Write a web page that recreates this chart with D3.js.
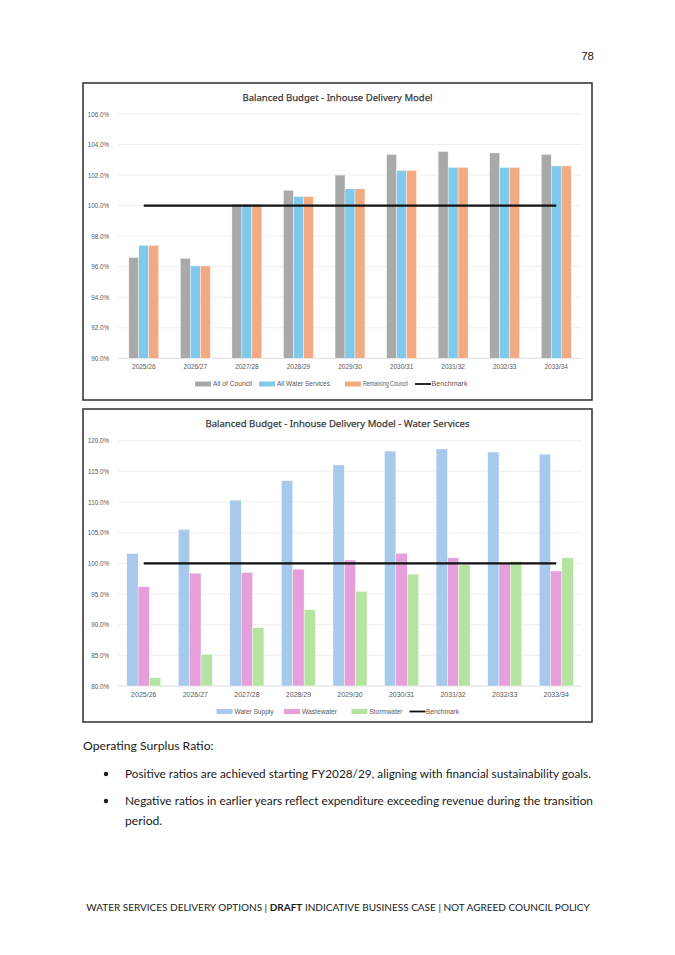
<!DOCTYPE html>
<html lang="en">
  <head>
    <meta charset="utf-8" />
    <title>Balanced Budget - Inhouse Delivery Model</title>
    <script src="https://d3js.org/d3.v7.min.js"></script>
    <style>
      html, body { margin: 0; padding: 0; background: #fff; }
      svg { display: block; }
    </style>
  </head>
  <body>
    <svg id="page" width="675" height="955"></svg>

    <script>
      // ---- data ----
      const years = ["2025/26", "2026/27", "2027/28", "2028/29", "2029/30", "2030/31", "2031/32", "2032/33", "2033/34"];

      const allOfCouncil      = [96.6, 96.55, 100.1, 101.0, 102.0, 103.35, 103.55, 103.45, 103.35];
      const allWaterServices  = [97.4, 96.05, 100.1, 100.6, 101.1, 102.3, 102.5, 102.5, 102.6];
      const remainingCouncil  = [97.4, 96.05, 100.1, 100.6, 101.1, 102.3, 102.5, 102.5, 102.6];

      const waterSupply = [101.6, 105.55, 110.3, 113.5, 116.05, 118.3, 118.65, 118.15, 117.8];
      const wastewater  = [96.2, 98.4, 98.5, 99.05, 100.55, 101.65, 100.9, 100.0, 98.75];
      const stormwater  = [81.35, 85.15, 89.5, 92.45, 95.45, 98.25, 99.75, 100.35, 100.9];

      const benchmark = 100;

      const topTicks = [90, 92, 94, 96, 98, 100, 102, 104, 106];
      const bottomTicks = [80, 85, 90, 95, 100, 105, 110, 115, 120];

      const svg = d3.select("#page");
      const chartFont = "'Liberation Sans', Arial, sans-serif";
      const docFont = "Lato, 'Noto Sans', sans-serif";

      function drawChart(opt) {
        const g = svg.append("g");

        // frame
        g.append("rect")
          .attr("x", opt.box[0]).attr("y", opt.box[1])
          .attr("width", opt.box[2] - opt.box[0]).attr("height", opt.box[3] - opt.box[1])
          .attr("fill", "#fff")
          .attr("stroke", "#3a3a3a")
          .attr("stroke-width", 1.6);

        g.append("text")
          .attr("x", (opt.box[0] + opt.box[2]) / 2)
          .attr("y", opt.box[1] + 18)
          .attr("text-anchor", "middle")
          .attr("font-family", "'Noto Sans', sans-serif")
          .attr("font-size", 9.8)
          .attr("fill", "#3a3a3a")
          .attr("stroke", "#3a3a3a")
          .attr("stroke-width", 0.25)
          .attr("textLength", opt.titleW)
          .attr("lengthAdjust", "spacingAndGlyphs")
          .text(opt.title);

        const x = d3.scaleBand()
          .domain(years)
          .range([118, 582])
          .paddingInner(opt.pad)
          .paddingOuter(opt.pad / 2);

        const xs = d3.scaleBand()
          .domain(opt.series.map(s => s.name))
          .range([0, x.bandwidth()]);

        const y = d3.scaleLinear()
          .domain(opt.domain)
          .range(opt.yRange);

        // gridlines
        g.append("g")
          .selectAll("line")
          .data(opt.ticks)
          .join("line")
          .attr("x1", 118).attr("x2", 582)
          .attr("y1", d => y(d)).attr("y2", d => y(d))
          .attr("stroke", d => d === opt.domain[0] ? "#d9d9d9" : "#ececec")
          .attr("stroke-width", 0.9);

        // y axis labels
        const yAxis = g.append("g")
          .attr("transform", "translate(112,0)")
          .call(d3.axisLeft(y).tickValues(opt.ticks).tickSize(0).tickFormat(d => d.toFixed(1) + "%"));
        yAxis.select(".domain").remove();
        yAxis.selectAll("text")
          .attr("font-family", chartFont)
          .attr("font-size", 6.3)
          .attr("fill", "#595959");

        // x axis labels
        const xAxis = g.append("g")
          .attr("transform", `translate(0,${opt.yRange[0] + 3})`)
          .call(d3.axisBottom(x).tickSize(0));
        xAxis.select(".domain").remove();
        xAxis.selectAll("text")
          .attr("font-family", chartFont)
          .attr("font-size", opt.xFont)
          .attr("fill", "#595959");

        // bars
        opt.series.forEach(s => {
          g.append("g")
            .selectAll("rect")
            .data(years.map((yr, i) => ({ yr: yr, v: s.values[i] })))
            .join("rect")
            .attr("x", d => x(d.yr) + xs(s.name))
            .attr("width", xs.bandwidth())
            .attr("y", d => y(d.v))
            .attr("height", d => y(opt.domain[0]) - y(d.v))
            .attr("fill", s.color)
            .attr("stroke", "#fff")
            .attr("stroke-width", 0.4);
        });

        // benchmark line
        const line = d3.line()
          .x(d => x(d) + x.bandwidth() / 2)
          .y(() => y(benchmark));
        g.append("path")
          .datum(years)
          .attr("d", line)
          .attr("fill", "none")
          .attr("stroke", "#111")
          .attr("stroke-width", 2.4);

        // legend
        const lg = g.append("g");
        opt.legend.forEach(item => {
          if (item.line) {
            lg.append("line")
              .attr("x1", item.x).attr("x2", item.x + 16)
              .attr("y1", opt.legendY).attr("y2", opt.legendY)
              .attr("stroke", "#111").attr("stroke-width", 1.8);
          } else {
            lg.append("rect")
              .attr("x", item.x).attr("y", opt.legendY - 2.5)
              .attr("width", 16).attr("height", 5)
              .attr("fill", item.color);
          }
          lg.append("text")
            .attr("x", item.x + (item.line ? 16.5 : 18))
            .attr("y", opt.legendY + 2.3)
            .attr("font-family", chartFont)
            .attr("font-size", 6.3)
            .attr("fill", "#595959")
            .attr("textLength", item.w)
            .attr("lengthAdjust", "spacingAndGlyphs")
            .text(item.name);
        });
      }

      drawChart({
        title: "Balanced Budget - Inhouse Delivery Model",
        titleW: 190,
        box: [83, 83, 592, 400],
        domain: [90, 106],
        yRange: [358.3, 114],
        ticks: topTicks,
        pad: 0.42,
        xFont: 6.5,
        series: [
          { name: "All of Council", values: allOfCouncil, color: "#a9a9a9" },
          { name: "All Water Services", values: allWaterServices, color: "#80c9eb" },
          { name: "Remaining Council", values: remainingCouncil, color: "#f3aa82" }
        ],
        legendY: 384,
        legend: [
          { name: "All of Council", x: 195, color: "#a9a9a9", w: 39 },
          { name: "All Water Services", x: 259, color: "#80c9eb", w: 53 },
          { name: "Remaining Council", x: 345, color: "#f3aa82", w: 45 },
          { name: "Benchmark", x: 415, line: true, w: 36 }
        ]
      });

      drawChart({
        title: "Balanced Budget - Inhouse Delivery Model - Water Services",
        titleW: 264,
        box: [83, 409, 592, 722],
        domain: [80, 120],
        yRange: [686, 440.7],
        ticks: bottomTicks,
        pad: 0.34,
        xFont: 7,
        series: [
          { name: "Water Supply", values: waterSupply, color: "#a6c9ec" },
          { name: "Wastewater", values: wastewater, color: "#e5a0dc" },
          { name: "Stormwater", values: stormwater, color: "#b4e4a0" }
        ],
        legendY: 711.5,
        legend: [
          { name: "Water Supply", x: 216.5, color: "#a6c9ec", w: 39 },
          { name: "Wastewater", x: 284, color: "#e5a0dc", w: 35 },
          { name: "Stormwater", x: 351.5, color: "#b4e4a0", w: 33 },
          { name: "Benchmark", x: 409.5, line: true, w: 33 }
        ]
      });

      // page furniture
      svg.append("text")
        .attr("x", 594).attr("y", 60)
        .attr("text-anchor", "end")
        .attr("font-family", chartFont)
        .attr("font-size", 11.5)
        .attr("fill", "#222")
        .text("78");

      svg.append("text")
        .attr("x", 83).attr("y", 750)
        .attr("font-family", docFont)
        .attr("font-size", 12.2)
        .attr("fill", "#1a1a1a")
        .text("Operating Surplus Ratio:");

      const bullets = [
        { y: 778, text: "Positive ratios are achieved starting FY2028/29, aligning with financial sustainability goals.", w: 466 },
        { y: 805, text: "Negative ratios in earlier years reflect expenditure exceeding revenue during the transition", w: 468 },
        { y: 825, text: "period.", w: null }
      ];
      bullets.forEach((b, i) => {
        if (i < 2) {
          svg.append("circle")
            .attr("cx", 106).attr("cy", b.y - 4).attr("r", 2.2)
            .attr("fill", "#1a1a1a");
        }
        const t = svg.append("text")
          .attr("x", 125).attr("y", b.y)
          .attr("font-family", docFont)
          .attr("font-size", 12.2)
          .attr("fill", "#1a1a1a")
          .text(b.text);
        if (b.w) t.attr("textLength", b.w).attr("lengthAdjust", "spacingAndGlyphs");
      });

      const foot = svg.append("text")
        .attr("x", 338).attr("y", 911)
        .attr("text-anchor", "middle")
        .attr("font-family", docFont)
        .attr("font-size", 10)
        .attr("fill", "#1a1a1a");
      foot.append("tspan").text("WATER SERVICES DELIVERY OPTIONS | ");
      foot.append("tspan").attr("font-weight", 700).text("DRAFT");
      foot.append("tspan").text(" INDICATIVE BUSINESS CASE | NOT AGREED COUNCIL POLICY");
    </script>
  </body>
</html>
